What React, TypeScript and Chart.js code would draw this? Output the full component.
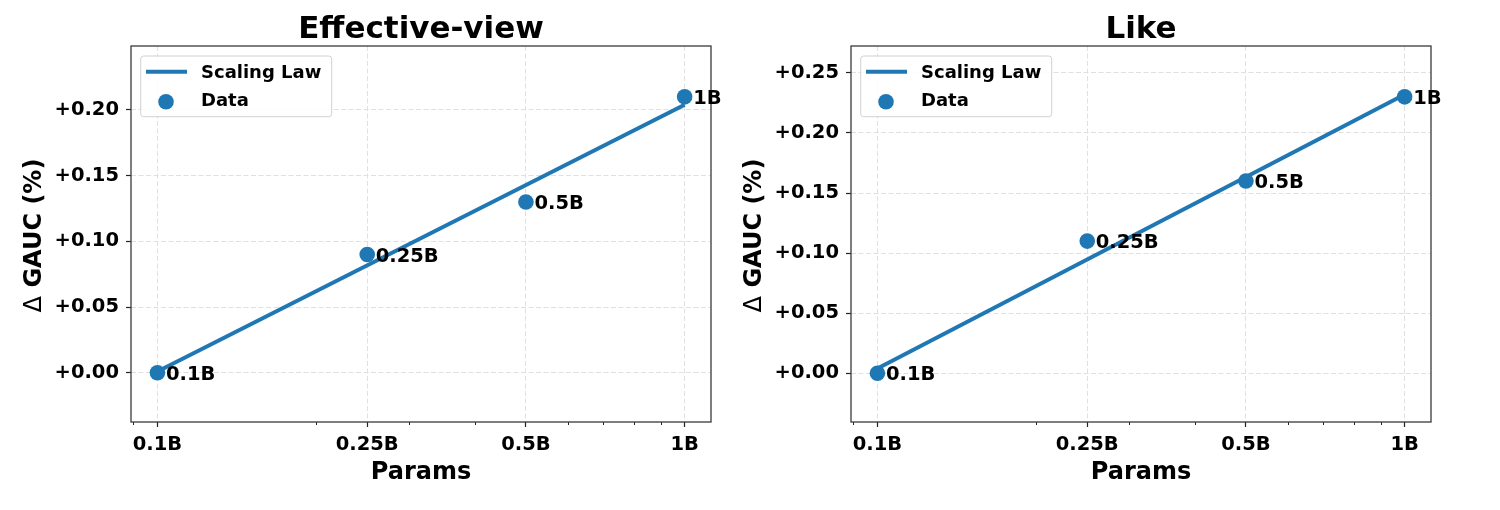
import React, { useEffect, useRef } from 'react';
import { Chart, registerables } from 'chart.js';

Chart.register(...registerables);

// ---------- data ----------
const PARAMS = [0.1, 0.25, 0.5, 1];
const POINT_LABELS = ['0.1B', '0.25B', '0.5B', '1B'];
const X_TICKS = [0.1, 0.25, 0.5, 1];
const X_TICK_LABELS = ['0.1B', '0.25B', '0.5B', '1B'];
const X_MINOR_TICKS = [0.09, 0.2, 0.3, 0.4, 0.6, 0.7, 0.8, 0.9];
const X_RANGE = [0.0891, 1.122];
const FIT_X = [0.1, 1];

const EV_TITLE = 'Effective-view';
const EV_GAUC = [0, 0.09, 0.13, 0.21];
const EV_FIT_Y = [0.001, 0.204];
const EV_Y_TICKS = [0, 0.05, 0.1, 0.15, 0.2];
const EV_Y_RANGE = [-0.0375, 0.2487];

const LIKE_TITLE = 'Like';
const LIKE_GAUC = [0, 0.11, 0.16, 0.23];
const LIKE_FIT_Y = [0.004, 0.232];
const LIKE_Y_TICKS = [0, 0.05, 0.1, 0.15, 0.2, 0.25];
const LIKE_Y_RANGE = [-0.0405, 0.2723];

const LEGEND_LINE = 'Scaling Law';
const LEGEND_DOTS = 'Data';
const X_TITLE = 'Params';
const Y_TITLE_SYMBOL = 'Δ';
const Y_TITLE_REST = ' GAUC (%)';

// ---------- style ----------
const BLUE = '#1f77b4';
const FAMILY = "'DejaVu Sans', 'Noto Sans', sans-serif";
const TICK_SIZE = 19.5;
const H = 510;

const overlay = {
  id: 'overlay',
  afterDatasetsDraw(chart: any, _args: any, opts: any) {
    const ctx = chart.ctx as CanvasRenderingContext2D;
    const { left, right, top, bottom } = chart.chartArea;
    const xs = chart.scales.x;
    const ys = chart.scales.y;
    ctx.save();
    // minor ticks
    ctx.strokeStyle = '#222';
    ctx.lineWidth = 1;
    for (const v of X_MINOR_TICKS) {
      const px = Math.round(xs.getPixelForValue(v)) + 0.5;
      ctx.beginPath();
      ctx.moveTo(px, bottom);
      ctx.lineTo(px, bottom + 3);
      ctx.stroke();
    }
    // frame
    ctx.strokeStyle = '#3a3a3a';
    ctx.lineWidth = 1.3;
    ctx.strokeRect(left, top, right - left, bottom - top);
    // annotations
    ctx.fillStyle = '#000';
    ctx.font = `bold ${TICK_SIZE}px ${FAMILY}`;
    ctx.textAlign = 'left';
    ctx.textBaseline = 'alphabetic';
    PARAMS.forEach((p, i) => {
      const px = xs.getPixelForValue(p);
      const py = ys.getPixelForValue(opts.gauc[i]);
      ctx.fillText(POINT_LABELS[i], px + 8.5, py + 0.729 * TICK_SIZE / 2);
    });
    ctx.restore();
  },
  afterDraw(chart: any, _args: any, opts: any) {
    const ctx = chart.ctx as CanvasRenderingContext2D;
    const { left, right, top } = chart.chartArea;
    const cx = (left + right) / 2;
    ctx.save();
    ctx.fillStyle = '#000';
    // title
    ctx.font = `bold 31px ${FAMILY}`;
    ctx.textAlign = 'center';
    ctx.textBaseline = 'alphabetic';
    ctx.fillText(opts.title, cx, 38);
    // x title
    ctx.font = `bold 24px ${FAMILY}`;
    ctx.fillText(X_TITLE, cx, 479);
    // y title
    ctx.save();
    ctx.translate(left - 90.5, 235.5);
    ctx.rotate(-Math.PI / 2);
    ctx.font = `24px ${FAMILY}`;
    const w1 = ctx.measureText(Y_TITLE_SYMBOL).width;
    ctx.font = `bold 24px ${FAMILY}`;
    const w2 = ctx.measureText(Y_TITLE_REST).width;
    const start = -(w1 + w2) / 2;
    ctx.textAlign = 'left';
    ctx.font = `24px ${FAMILY}`;
    ctx.fillText(Y_TITLE_SYMBOL, start, 0);
    ctx.font = `bold 24px ${FAMILY}`;
    ctx.fillText(Y_TITLE_REST, start + w1, 0);
    ctx.restore();
    // legend
    const bx = left + 9.7;
    const by = top + 10;
    const bw = 191;
    const bh = 60.7;
    const r = 3;
    ctx.beginPath();
    ctx.moveTo(bx + r, by);
    ctx.lineTo(bx + bw - r, by);
    ctx.arcTo(bx + bw, by, bx + bw, by + r, r);
    ctx.lineTo(bx + bw, by + bh - r);
    ctx.arcTo(bx + bw, by + bh, bx + bw - r, by + bh, r);
    ctx.lineTo(bx + r, by + bh);
    ctx.arcTo(bx, by + bh, bx, by + bh - r, r);
    ctx.lineTo(bx, by + r);
    ctx.arcTo(bx, by, bx + r, by, r);
    ctx.closePath();
    ctx.fillStyle = 'rgba(255,255,255,0.85)';
    ctx.fill();
    ctx.strokeStyle = '#d0d0d0';
    ctx.lineWidth = 1;
    ctx.stroke();
    ctx.strokeStyle = BLUE;
    ctx.lineWidth = 4;
    ctx.beginPath();
    ctx.moveTo(left + 15, top + 25.7);
    ctx.lineTo(left + 56, top + 25.7);
    ctx.stroke();
    ctx.fillStyle = BLUE;
    ctx.beginPath();
    ctx.arc(left + 35, top + 55.7, 7.8, 0, Math.PI * 2);
    ctx.fill();
    ctx.fillStyle = '#000';
    ctx.font = `bold 18px ${FAMILY}`;
    ctx.textAlign = 'left';
    ctx.fillText(LEGEND_LINE, left + 70, top + 32.3);
    ctx.fillText(LEGEND_DOTS, left + 70, top + 60);
    ctx.restore();
  },
};

type PanelProps = {
  title: string;
  gauc: number[];
  fitY: number[];
  yTicks: number[];
  yRange: number[];
  width: number;
  areaLeft: number;
  padRight: number;
  x: number;
};

function Panel(props: PanelProps) {
  const ref = useRef<HTMLCanvasElement>(null);
  useEffect(() => {
    const canvas = ref.current;
    if (!canvas) return;
    const tickFont = { family: FAMILY, weight: 'bold' as const, size: TICK_SIZE };
    const chart = new Chart(canvas, {
      type: 'scatter',
      data: {
        datasets: [
          {
            type: 'line',
            label: LEGEND_LINE,
            data: FIT_X.map((x, i) => ({ x, y: props.fitY[i] })),
            borderColor: BLUE,
            backgroundColor: BLUE,
            borderWidth: 4,
            pointRadius: 0,
            showLine: true,
            fill: false,
            tension: 0,
          } as any,
          {
            type: 'scatter',
            label: LEGEND_DOTS,
            data: PARAMS.map((x, i) => ({ x, y: props.gauc[i] })),
            backgroundColor: BLUE,
            borderColor: BLUE,
            borderWidth: 0,
            pointRadius: 7.8,
            pointHoverRadius: 7.8,
          } as any,
        ],
      },
      options: {
        responsive: false,
        animation: false,
        devicePixelRatio: 1,
        events: [],
        layout: { padding: { left: 0, right: props.padRight, top: 46, bottom: 0 } },
        plugins: {
          legend: { display: false },
          tooltip: { enabled: false },
          title: { display: false },
          overlay: { title: props.title, gauc: props.gauc },
        } as any,
        scales: {
          x: {
            type: 'logarithmic',
            position: 'bottom',
            min: X_RANGE[0],
            max: X_RANGE[1],
            afterBuildTicks: (s: any) => {
              s.ticks = X_TICKS.map((v) => ({ value: v }));
            },
            afterFit: (s: any) => {
              s.height = H - 422;
            },
            ticks: {
              autoSkip: false,
              maxRotation: 0,
              minRotation: 0,
              padding: 6,
              color: '#000',
              font: tickFont,
              callback: (_v: any, i: number) => X_TICK_LABELS[i],
            },
            grid: { color: '#e0e0e0', lineWidth: 1, tickColor: '#222', tickLength: 5, tickWidth: 1.2 },
            border: { display: false, dash: [5, 2.5] },
          } as any,
          y: {
            type: 'linear',
            position: 'left',
            min: props.yRange[0],
            max: props.yRange[1],
            afterBuildTicks: (s: any) => {
              s.ticks = props.yTicks.map((v) => ({ value: v }));
            },
            afterFit: (s: any) => {
              s.width = props.areaLeft;
            },
            ticks: {
              padding: 7,
              color: '#000',
              font: tickFont,
              callback: (v: any) => '+' + Number(v).toFixed(2),
            },
            grid: { color: '#e0e0e0', lineWidth: 1, tickColor: '#222', tickLength: 5, tickWidth: 1.2 },
            border: { display: false, dash: [5, 2.5] },
          } as any,
        },
      },
      plugins: [overlay as any],
    });
    return () => chart.destroy();
  }, []);
  return (
    <canvas
      ref={ref}
      width={props.width}
      height={H}
      style={{ position: 'absolute', left: props.x, top: 0, width: props.width, height: H }}
    />
  );
}

export default function App() {
  return (
    <div style={{ position: 'fixed', left: 0, top: 0, width: 1500, height: H, background: '#fff' }}>
      <Panel
        title={EV_TITLE}
        gauc={EV_GAUC}
        fitY={EV_FIT_Y}
        yTicks={EV_Y_TICKS}
        yRange={EV_Y_RANGE}
        width={732}
        areaLeft={131}
        padRight={21}
        x={0}
      />
      <Panel
        title={LIKE_TITLE}
        gauc={LIKE_GAUC}
        fitY={LIKE_FIT_Y}
        yTicks={LIKE_Y_TICKS}
        yRange={LIKE_Y_RANGE}
        width={768}
        areaLeft={119}
        padRight={69}
        x={732}
      />
    </div>
  );
}
